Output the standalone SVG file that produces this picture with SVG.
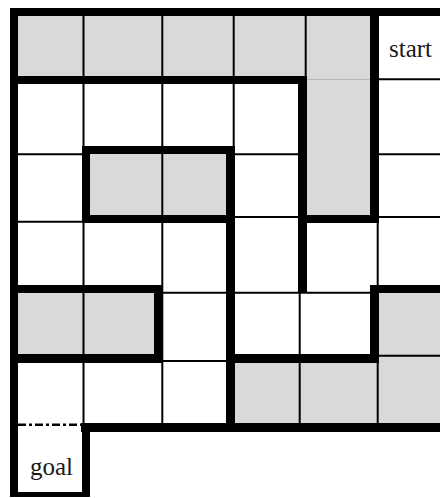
<svg xmlns="http://www.w3.org/2000/svg" width="440" height="498" viewBox="0 0 440 498">
  <style>
    .g { fill: #d9d9d9; }
    .thin { stroke: #000; stroke-width: 2; fill: none; }
    .faint { stroke: #b8b8b8; stroke-width: 1; fill: none; }
    .wall { fill: #000; }
    .lbl { font-family: "Liberation Serif", "Times New Roman", serif; font-size: 25px; fill: #1a1a1a; }
  </style>
  <rect x="0" y="0" width="440" height="498" fill="#fff"/>
  <g id="cells">
    <rect class="g" x="14" y="12" width="360" height="68"/>
    <rect class="g" x="302" y="80" width="72" height="139"/>
    <rect class="g" x="86" y="150" width="144" height="69"/>
    <rect class="g" x="14" y="289" width="144" height="69"/>
    <rect class="g" x="374" y="289" width="66" height="69"/>
    <rect class="g" x="230" y="358" width="210" height="69"/>
  </g>
  <g id="start">
    <text class="lbl" x="389" y="57">start</text>
  </g>
  <g id="goal">
    <text class="lbl" x="30" y="475">goal</text>
  </g>
  <g id="grid">
    <line class="thin" x1="83.5" y1="12" x2="83.5" y2="426"/>
    <line class="thin" x1="162.3" y1="12" x2="162.3" y2="426"/>
    <line class="thin" x1="233.7" y1="12" x2="233.7" y2="150"/>
    <line class="thin" x1="305.7" y1="12" x2="305.7" y2="80"/>
    <line class="thin" x1="299.7" y1="289" x2="299.7" y2="427"/>
    <line class="thin" x1="377.7" y1="219" x2="377.7" y2="289"/>
    <line class="thin" x1="377.7" y1="358" x2="377.7" y2="427"/>
    <line class="faint" x1="307" y1="79.5" x2="370" y2="79.5"/>
    <line class="thin" x1="379" y1="79.3" x2="440" y2="79.3"/>
    <line class="thin" x1="14" y1="154.3" x2="82" y2="154.3"/>
    <line class="thin" x1="234" y1="154.3" x2="298" y2="154.3"/>
    <line class="thin" x1="379" y1="154.3" x2="440" y2="154.3"/>
    <line class="thin" x1="14" y1="221.8" x2="82" y2="221.8"/>
    <line class="thin" x1="235" y1="217" x2="298" y2="217"/>
    <line class="thin" x1="379" y1="217" x2="440" y2="217"/>
    <line class="thin" x1="162" y1="292.7" x2="370" y2="292.7"/>
    <line class="thin" x1="162" y1="361" x2="226" y2="361"/>
    <line class="thin" x1="379" y1="355.7" x2="440" y2="355.7"/>
    <line x1="18" y1="424.7" x2="82" y2="424.7" stroke="#000" stroke-width="2.6" stroke-dasharray="8 3 3 3"/>
  </g>
  <g id="walls">
    <rect class="wall" x="10" y="8" width="430" height="8"/>
    <rect class="wall" x="10" y="8" width="8" height="489"/>
    <rect class="wall" x="10" y="76" width="297" height="8"/>
    <rect class="wall" x="370" y="8" width="9" height="215"/>
    <rect class="wall" x="298" y="76" width="9" height="217"/>
    <rect class="wall" x="298" y="215" width="81" height="8"/>
    <rect class="wall" x="82" y="146" width="153" height="8"/>
    <rect class="wall" x="82" y="146" width="8" height="77"/>
    <rect class="wall" x="82" y="215" width="153" height="8"/>
    <rect class="wall" x="226" y="146" width="9" height="286"/>
    <rect class="wall" x="10" y="285" width="153" height="8"/>
    <rect class="wall" x="154" y="285" width="9" height="78"/>
    <rect class="wall" x="10" y="354" width="153" height="9"/>
    <rect class="wall" x="370" y="285" width="70" height="8"/>
    <rect class="wall" x="370" y="285" width="9" height="78"/>
    <rect class="wall" x="226" y="354" width="153" height="9"/>
    <rect class="wall" x="81" y="423" width="359" height="9"/>
    <rect class="wall" x="82" y="423" width="8" height="74"/>
    <rect class="wall" x="10" y="492" width="80" height="5"/>
  </g>
</svg>
